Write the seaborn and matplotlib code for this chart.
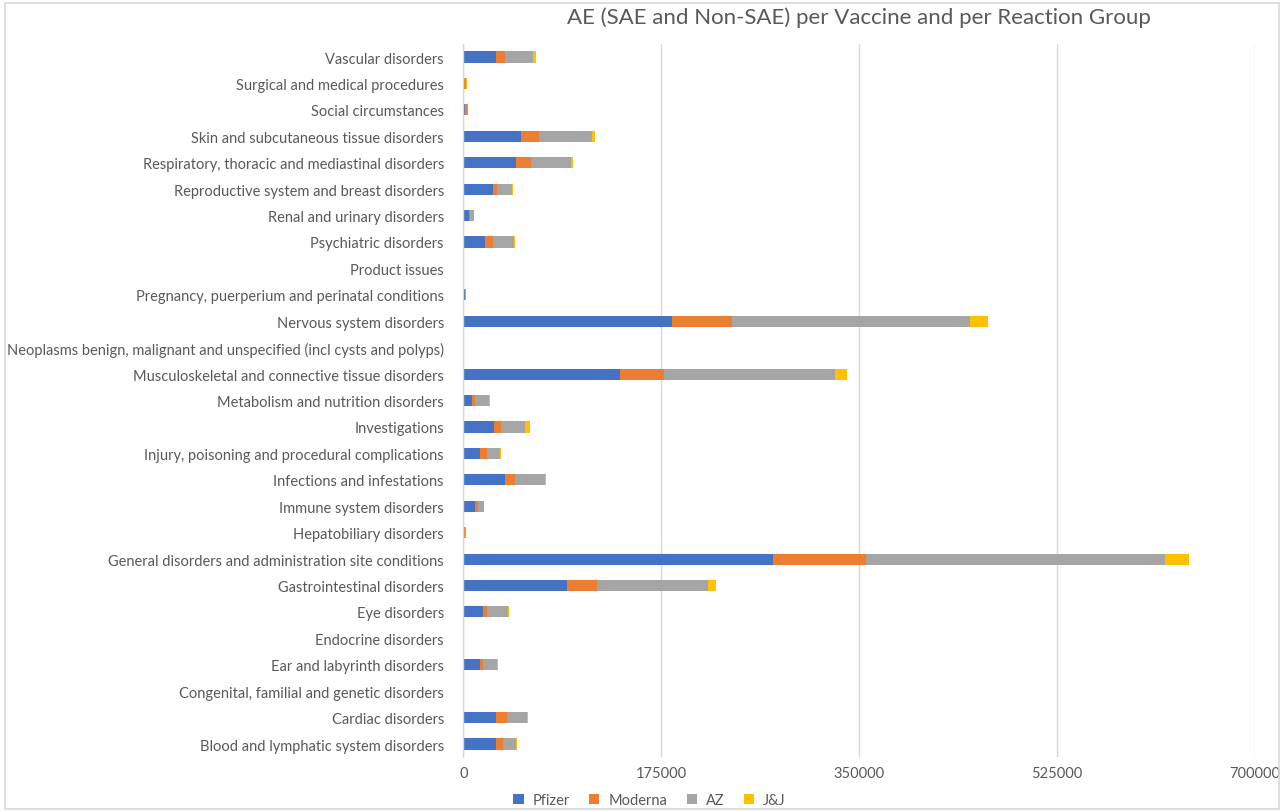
import matplotlib
matplotlib.use("Agg")
import matplotlib.pyplot as plt
from matplotlib.patches import Patch, Rectangle
import seaborn as sns
import pandas as pd
import numpy as np

categories = [
    "Vascular disorders",
    "Surgical and medical procedures",
    "Social circumstances",
    "Skin and subcutaneous tissue disorders",
    "Respiratory, thoracic and mediastinal disorders",
    "Reproductive system and breast disorders",
    "Renal and urinary disorders",
    "Psychiatric disorders",
    "Product issues",
    "Pregnancy, puerperium and perinatal conditions",
    "Nervous system disorders",
    "Neoplasms benign, malignant and unspecified (incl cysts and polyps)",
    "Musculoskeletal and connective tissue disorders",
    "Metabolism and nutrition disorders",
    "Investigations",
    "Injury, poisoning and procedural complications",
    "Infections and infestations",
    "Immune system disorders",
    "Hepatobiliary disorders",
    "General disorders and administration site conditions",
    "Gastrointestinal disorders",
    "Eye disorders",
    "Endocrine disorders",
    "Ear and labyrinth disorders",
    "Congenital, familial and genetic disorders",
    "Cardiac disorders",
    "Blood and lymphatic system disorders",
]

pfizer = [29300, 300, 1500, 50800, 46700, 25800, 4600, 19300, 50, 1500,
          184700, 100, 138700, 7900, 26700, 14300, 36700, 10500, 800,
          273400, 91900, 17000, 200, 14300, 150, 29300, 29300]
moderna = [7600, 1800, 2000, 15900, 12700, 3800, 1100, 6800, 20, 200,
           53000, 50, 38400, 2700, 6500, 6200, 8800, 2700, 300,
           83000, 26600, 3500, 50, 3500, 50, 9700, 5900]
az = [24700, 600, 800, 47100, 35900, 13500, 3800, 18600, 80, 300,
      209900, 200, 151600, 12400, 20900, 11500, 27100, 4700, 1000,
      264100, 98000, 18600, 300, 11800, 150, 17700, 11100]
jj = [2400, 100, 100, 2400, 2100, 900, 200, 900, 10, 50,
      16100, 20, 10700, 300, 4700, 900, 900, 200, 100,
      21400, 6800, 900, 20, 900, 20, 900, 900]

series_names = ["Pfizer", "Moderna", "AZ", "J&J"]
xticks = [0, 175000, 350000, 525000, 700000]
title = "AE (SAE and Non-SAE) per Vaccine and per Reaction Group"

colors = ["#4472C4", "#ED7D31", "#A5A5A5", "#FFC000"]
text_color = "#595959"

sns.set_theme(style="white")
plt.rcParams["font.family"] = ["Lato", "DejaVu Sans"]

df = pd.DataFrame({"group": categories, "Pfizer": pfizer, "Moderna": moderna,
                   "AZ": az, "J&J": jj})
cum = df[series_names].cumsum(axis=1)
cum["group"] = df["group"]

fig = plt.figure(figsize=(12.86, 8.12), dpi=100)
ax = fig.add_axes([0.3603, 0.0662, 0.6156, 0.8786])

# draw cumulative totals from the largest down so each segment shows
for name, col in zip(reversed(series_names), reversed(colors)):
    sns.barplot(data=cum, x=name, y="group", order=categories, color=col,
                width=0.42, saturation=1, linewidth=0, ax=ax, orient="h")

ax.set_xlim(0, 700000)
ax.set_xticks(xticks)
ax.set_xticklabels([str(t) for t in xticks])
ax.set_xlabel("")
ax.set_ylabel("")
ax.xaxis.grid(True, color="#D9D9D9", linewidth=1.0)
ax.yaxis.grid(False)
ax.set_axisbelow(True)
for s in ["top", "right", "bottom"]:
    ax.spines[s].set_visible(False)
ax.spines["left"].set_color("#D9D9D9")
ax.spines["left"].set_linewidth(1.0)
ax.tick_params(axis="y", length=0, pad=14, labelsize=10.5, labelcolor=text_color)
ax.tick_params(axis="x", length=0, pad=6, labelsize=10.5, labelcolor=text_color)

fig.text(0.668, 0.978, title, ha="center", va="center", fontsize=16,
         color=text_color)

handles = [Patch(facecolor=c, edgecolor="none", label=n)
           for n, c in zip(series_names, colors)]
fig.legend(handles=handles, loc="center", bbox_to_anchor=(0.505, 0.0135),
           ncol=4, frameon=False, fontsize=10.5, labelcolor=text_color,
           handlelength=0.7, handleheight=0.7, handletextpad=0.6,
           columnspacing=1.35)

fig.add_artist(Rectangle((5 / 1286, 2 / 812), 1274 / 1286, 806 / 812,
                         transform=fig.transFigure, fill=False,
                         edgecolor="#D9D9D9", linewidth=1.2))

fig.savefig("out.png", dpi=100)
